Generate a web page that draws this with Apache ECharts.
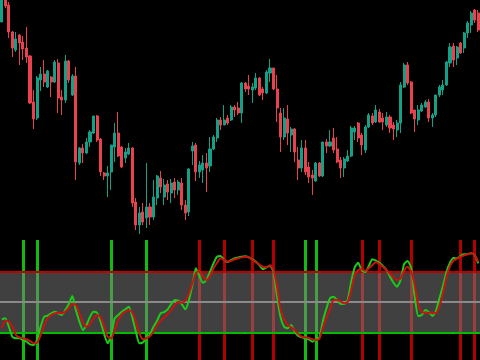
<!DOCTYPE html>
<html>
<head>
<meta charset="utf-8">
<style>html,body{margin:0;padding:0;background:#000;}#c{width:480px;height:360px;}</style>
<script src="https://cdn.jsdelivr.net/npm/echarts@6/dist/echarts.min.js"></script>
</head>
<body>
<div id="c"></div>
<script>
const categories = [];
for (let i = 0; i < 136; i++) categories.push('Bar ' + (i + 1));

const opens = [
  218,240,235,208,190,205,198,192,184,138,
  122,160,166,153,163,158,177,143,140,179,
  145,164,77,92,87,98,107,124,101,67,
  64,68,93,107,93,82,86,92,38,15,
  28,22,33,23,42,62,43,56,47,58,
  50,57,35,28,89,95,68,70,77,74,
  91,102,120,115,122,120,133,132,127,157,
  154,150,152,162,151,147,167,172,151,127,
  103,121,105,111,80,72,92,73,65,59,
  77,64,98,94,102,91,80,72,79,84,
  108,117,105,90,113,124,118,128,122,115,
  123,115,110,117,153,175,158,130,120,129,
  133,138,122,125,145,150,155,177,194,182,
  197,192,207,215,230,227
];
const closes = [
  240,234,208,192,201,197,191,183,137,121,
  162,166,158,169,158,178,142,140,179,160,
  164,78,92,87,98,108,124,100,68,64,
  67,95,107,84,73,88,92,37,15,27,
  18,33,23,43,64,53,55,48,57,50,
  58,35,27,71,94,68,75,77,72,91,
  103,120,115,120,117,133,130,127,157,151,
  151,153,162,145,147,168,172,151,132,103,
  122,107,111,88,72,92,68,63,62,77,
  64,98,94,98,90,78,72,81,84,112,
  112,102,95,113,125,117,130,118,118,123,
  112,111,117,155,175,157,127,121,130,135,
  138,122,125,145,153,155,178,193,180,193,
  187,207,217,227,220,210
];
const lows = [
  218,232,202,183,188,175,180,177,136,111,
  120,149,153,152,143,157,127,125,137,157,
  144,60,75,77,86,93,106,98,64,60,
  43,50,78,83,72,77,85,33,10,6,
  15,12,15,20,35,47,35,40,37,42,
  45,30,20,24,75,59,62,57,48,68,
  90,98,110,115,115,119,123,125,117,148,
  145,137,150,144,140,146,158,150,118,88,
  100,95,88,78,60,68,65,57,45,58,
  63,63,87,93,87,77,62,63,78,83,
  100,98,85,87,112,115,117,117,110,113,
  107,100,103,107,152,155,126,108,115,128,
  132,118,113,123,143,145,154,173,173,175,
  186,187,202,207,217,208
];
const highs = [
  243,242,238,209,208,206,204,213,185,150,
  164,173,180,170,164,180,181,150,185,180,
  166,173,93,96,102,110,124,125,102,68,
  74,95,117,128,94,92,97,93,42,33,
  37,77,37,60,65,69,61,60,61,62,
  60,62,40,72,98,97,79,85,87,103,
  105,122,123,135,125,135,135,138,158,158,
  165,157,167,163,153,170,181,172,165,132,
  132,135,113,112,93,100,100,78,70,78,
  78,98,101,110,112,103,83,83,90,114,
  114,118,107,115,127,127,135,131,127,128,
  125,118,120,158,177,178,159,130,135,137,
  140,141,127,145,155,160,179,197,197,194,
  198,208,219,229,231,230
];

const stochK = [
  32.9,33.9,25.5,15.6,14.1,14.1,12.4,10.7,8.1,7.4,
  12.4,25.5,35.4,36.4,38.8,40.4,38.8,37.1,42.1,48,
  55.9,42.1,30.5,22.3,27.2,35.4,40.4,39.4,30.5,18.3,
  9.1,17.3,33.9,37.1,40.4,42.8,45.3,34.8,20.6,9.1,
  10.1,14.1,18.3,25.5,31.5,38.8,40.1,42.8,48,52,
  51.3,48,42.8,51.3,66.8,83.4,75.7,69.1,71.8,80,
  88.3,94.8,95.5,91.6,89.6,91.6,93.3,94.2,94.8,95.2,
  94.2,92.3,89.9,86.6,82.4,84.3,85.6,80,55.2,34.8,
  25.5,24,27.2,20.6,16.3,15,14.1,13.1,10.7,13.1,
  15,31.5,43.8,53.7,55.2,52,48,48,52,70.1,
  84.3,88.9,81,79.7,85.6,92.3,90.9,88.9,85.6,81.7,
  75,69.1,65.1,71.8,87.6,90.6,83.4,55.2,36.1,37.1,
  42.1,40.1,36.1,41.1,53.7,65.8,80,88.9,93.6,93.3,
  95.8,97.2,97.5,98.2,96.5,88.3
];
const stochD = [
  24,31.5,30.5,25.5,17.3,15,14.1,13.1,11.4,9.1,
  9.7,17.3,27.2,33.9,37.1,38.8,39.4,38.8,40.4,43.8,
  48,47,38.8,29.5,25.5,28.2,33.9,37.1,34.8,25.5,
  15.6,14.1,22.3,32.2,38.1,40.4,42.1,39.4,30.5,19,
  13.1,14.1,16.3,20.6,27.2,31.5,34.8,38.1,42.1,47,
  50.3,49.3,51.3,57.9,68.5,78.4,81,75,71.8,75.7,
  83.4,88.9,93.3,91.6,89.9,90.9,92.3,93.3,94.2,94.8,
  94.2,91.6,89.3,86.9,84.9,84.3,86.3,81.7,65.1,42.1,
  32.9,27.2,24.9,22.3,18.3,15.6,15,14.4,13.1,12.4,
  13.7,24.9,34.8,42.8,52,52,50.7,48.7,50,61.9,
  76.7,81.7,82.4,81,83.4,86.6,89.6,87.6,84.9,81.7,
  77.7,74.4,71.8,73.5,81,84.9,80,66.8,47,40.4,
  39.4,39.4,39.4,38.8,46,58.6,75,85.6,90.9,92.9,
  94.8,96.2,97.2,98.2,96.2,89.9
];

const buySignals = [6, 10, 31, 41, 86, 89];
const sellSignals = [56, 63, 71, 77, 102, 107, 116, 130, 134];
const overbought = 80;
const midLevel = 50;
const oversold = 20;

const candleData = opens.map((o, i) => [o, closes[i], lows[i], highs[i]]);

const chart = echarts.init(document.getElementById('c'), null, {renderer: 'canvas'});
chart.setOption({
  animation: false,
  backgroundColor: '#000000',
  grid: [
    {left: 0, right: 0, top: 0, height: 240},
    {left: 0, right: 0, top: 240, height: 120}
  ],
  xAxis: [
    {type: 'category', data: categories, gridIndex: 0, boundaryGap: true, show: false},
    {type: 'category', data: categories, gridIndex: 1, boundaryGap: true, show: false}
  ],
  yAxis: [
    {type: 'value', gridIndex: 0, min: 0, max: 240, show: false, splitLine: {show: false}},
    {type: 'value', gridIndex: 1, min: -7.4, max: 111.4, show: false, splitLine: {show: false}}
  ],
  series: [
    {
      type: 'candlestick',
      xAxisIndex: 0, yAxisIndex: 0,
      data: candleData,
      barWidth: 2.6,
      itemStyle: {
        color: '#14a086', color0: '#e8424f',
        borderColor: '#14a086', borderColor0: '#e8424f',
        borderWidth: 1
      }
    },
    {
      type: 'line', xAxisIndex: 1, yAxisIndex: 1, data: [], z: 1,
      markLine: {
        z: 1,
        silent: true, symbol: ['none', 'none'], label: {show: false},
        animation: false,
        data: buySignals.map(i => ({xAxis: i, lineStyle: {color: '#11bb11', width: 3, type: 'solid', opacity: 1}}))
          .concat(sellSignals.map(i => ({xAxis: i, lineStyle: {color: '#b00000', width: 3, type: 'solid', opacity: 1}})))
      }
    },
    {
      type: 'line', xAxisIndex: 1, yAxisIndex: 1, data: [], z: 2,
      markArea: {
        z: 2,
        silent: true,
        itemStyle: {color: 'rgba(128,128,128,0.5)'},
        data: [[{yAxis: oversold}, {yAxis: overbought}]]
      }
    },
    {
      type: 'line', xAxisIndex: 1, yAxisIndex: 1, data: [], z: 3,
      markLine: {
        z: 3,
        silent: true, symbol: ['none', 'none'], label: {show: false},
        data: [
          {yAxis: overbought, lineStyle: {color: '#bb0000', width: 2, type: 'solid', opacity: 1}},
          {yAxis: midLevel, lineStyle: {color: '#8a8a8a', width: 2, type: 'solid', opacity: 1}},
          {yAxis: oversold, lineStyle: {color: '#00bb00', width: 2, type: 'solid', opacity: 1}}
        ]
      }
    },
    {
      type: 'line', xAxisIndex: 1, yAxisIndex: 1, data: stochK, z: 4,
      showSymbol: false, smooth: 0.2,
      lineStyle: {color: '#19cc19', width: 2}
    },
    {
      type: 'line', xAxisIndex: 1, yAxisIndex: 1, data: stochD, z: 5,
      showSymbol: false, smooth: 0.2,
      lineStyle: {color: '#cc1111', width: 2}
    }
  ]
});
</script>
</body>
</html>
